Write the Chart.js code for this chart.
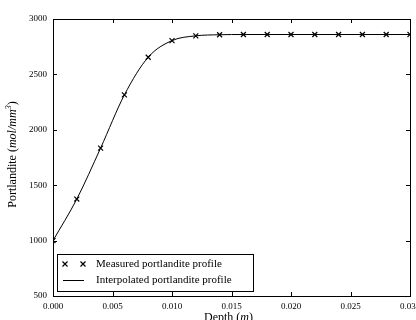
<!DOCTYPE html>
<html>
<head>
<meta charset="utf-8">
<script src="https://cdn.jsdelivr.net/npm/chart.js@4"></script>
<style>
  html, body { margin: 0; padding: 0; background: #fff; }
  #wrap { width: 416px; height: 320px; position: relative; }
</style>
</head>
<body>
<div id="wrap"><canvas id="portlanditeChart"></canvas></div>
<script>
// depth (m) of each measurement
const depths = [0.000, 0.002, 0.004, 0.006, 0.008, 0.010, 0.012, 0.014,
                0.016, 0.018, 0.020, 0.022, 0.024, 0.026, 0.028, 0.030];
// portlandite content
const portlandite = [1000, 1375, 1835, 2315, 2655, 2805, 2848, 2858,
                     2860, 2860, 2860, 2860, 2860, 2860, 2860, 2860];
const xTicks = [0.000, 0.005, 0.010, 0.015, 0.020, 0.025, 0.030];
const yTicks = [500, 1000, 1500, 2000, 2500, 3000];
const seriesLabels = ['Measured portlandite profile', 'Interpolated portlandite profile'];

const serif = '"Liberation Serif", "DejaVu Serif", serif';

// draw text made of {t, it, sup} pieces, centred on x
function drawMixed(ctx, parts, x, y, size) {
    const fontOf = p => (p.it ? 'italic ' : '') + (p.sup ? size * 0.7 : size) + 'px ' + serif;
    const widths = parts.map(p => {
        ctx.font = fontOf(p);
        return ctx.measureText(p.t).width;
    });
    let cx = x - widths.reduce((a, b) => a + b, 0) / 2;
    parts.forEach((p, i) => {
        ctx.font = fontOf(p);
        ctx.fillText(p.t, cx, p.sup ? y - size * 0.35 : y);
        cx += widths[i];
    });
}

const framePlugin = {
    id: 'frame',
    afterDraw(chart) {
        const ctx = chart.ctx;
        const a = chart.chartArea;
        const xs = chart.scales.x, ys = chart.scales.y;
        ctx.save();
        ctx.strokeStyle = '#000';
        ctx.lineWidth = 1;
        ctx.strokeRect(a.left + 0.5, a.top + 0.5, a.right - a.left, a.bottom - a.top);

        // inward ticks on all four sides
        ctx.beginPath();
        xTicks.forEach(v => {
            const px = Math.round(xs.getPixelForValue(v)) + 0.5;
            ctx.moveTo(px, a.bottom); ctx.lineTo(px, a.bottom - 4);
            ctx.moveTo(px, a.top); ctx.lineTo(px, a.top + 4);
        });
        yTicks.forEach(v => {
            const py = Math.round(ys.getPixelForValue(v)) + 0.5;
            ctx.moveTo(a.left, py); ctx.lineTo(a.left + 4, py);
            ctx.moveTo(a.right, py); ctx.lineTo(a.right - 4, py);
        });
        ctx.stroke();

        // axis titles
        ctx.fillStyle = '#000';
        ctx.textBaseline = 'middle';
        drawMixed(ctx, [{ t: 'Depth (' }, { t: 'm', it: true }, { t: ')' }],
                  (a.left + a.right) / 2 - 3, 318, 12);
        ctx.save();
        ctx.translate(13, (a.top + a.bottom) / 2 - 3);
        ctx.rotate(-Math.PI / 2);
        drawMixed(ctx, [{ t: 'Portlandite (' }, { t: 'mol/mm', it: true },
                        { t: '3', it: true, sup: true }, { t: ')' }], 0, 0, 12);
        ctx.restore();

        // legend box, lower left inside the axes
        const lx = a.left + 4, ly = 254, lw = 196, lh = 37;
        ctx.fillStyle = '#fff';
        ctx.fillRect(lx, ly, lw, lh);
        ctx.strokeRect(lx + 0.5, ly + 0.5, lw, lh);
        ctx.fillStyle = '#000';
        ctx.lineWidth = 1.2;
        [lx + 8, lx + 26].forEach(mx => {
            ctx.beginPath();
            ctx.moveTo(mx - 2.5, 264 - 2.5); ctx.lineTo(mx + 2.5, 264 + 2.5);
            ctx.moveTo(mx - 2.5, 264 + 2.5); ctx.lineTo(mx + 2.5, 264 - 2.5);
            ctx.stroke();
        });
        ctx.lineWidth = 1;
        ctx.beginPath();
        ctx.moveTo(lx + 6, 280.5); ctx.lineTo(lx + 27, 280.5);
        ctx.stroke();
        ctx.font = '11px ' + serif;
        ctx.textAlign = 'left';
        ctx.fillText(seriesLabels[0], lx + 39, 264);
        ctx.fillText(seriesLabels[1], lx + 39, 280);
        ctx.restore();
    }
};

const points = depths.map((d, i) => ({ x: d, y: portlandite[i] }));

new Chart(document.getElementById('portlanditeChart').getContext('2d'), {
    type: 'scatter',
    data: {
        datasets: [{
            label: seriesLabels[0],
            data: points,
            showLine: false,
            pointStyle: 'crossRot',
            pointRadius: 3.5,
            borderColor: '#000',
            borderWidth: 1.2
        }, {
            label: seriesLabels[1],
            data: points,
            showLine: true,
            pointRadius: 0,
            borderColor: '#000',
            borderWidth: 1,
            cubicInterpolationMode: 'monotone'
        }]
    },
    options: {
        responsive: true,
        maintainAspectRatio: false,
        animation: false,
        layout: { padding: { top: 19, right: 6, left: 0, bottom: 0 } },
        plugins: {
            legend: { display: false },
            tooltip: { enabled: false }
        },
        scales: {
            x: {
                type: 'linear',
                min: 0, max: 0.03,
                grid: { display: false, drawTicks: false },
                border: { display: false },
                afterBuildTicks: s => { s.ticks = xTicks.map(v => ({ value: v })); },
                afterFit: s => { s.height = 24; s.paddingLeft = 0; s.paddingRight = 0; },
                ticks: {
                    padding: 5,
                    maxRotation: 0,
                    color: '#000',
                    font: { family: serif, size: 9 },
                    callback: v => v.toFixed(3)
                }
            },
            y: {
                min: 500, max: 3000,
                grid: { display: false, drawTicks: false },
                border: { display: false },
                afterBuildTicks: s => { s.ticks = yTicks.map(v => ({ value: v })); },
                afterFit: s => { s.width = 53; },
                ticks: {
                    padding: 6,
                    color: '#000',
                    font: { family: serif, size: 9 },
                    callback: v => String(v)
                }
            }
        }
    },
    plugins: [framePlugin]
});
</script>
</body>
</html>
